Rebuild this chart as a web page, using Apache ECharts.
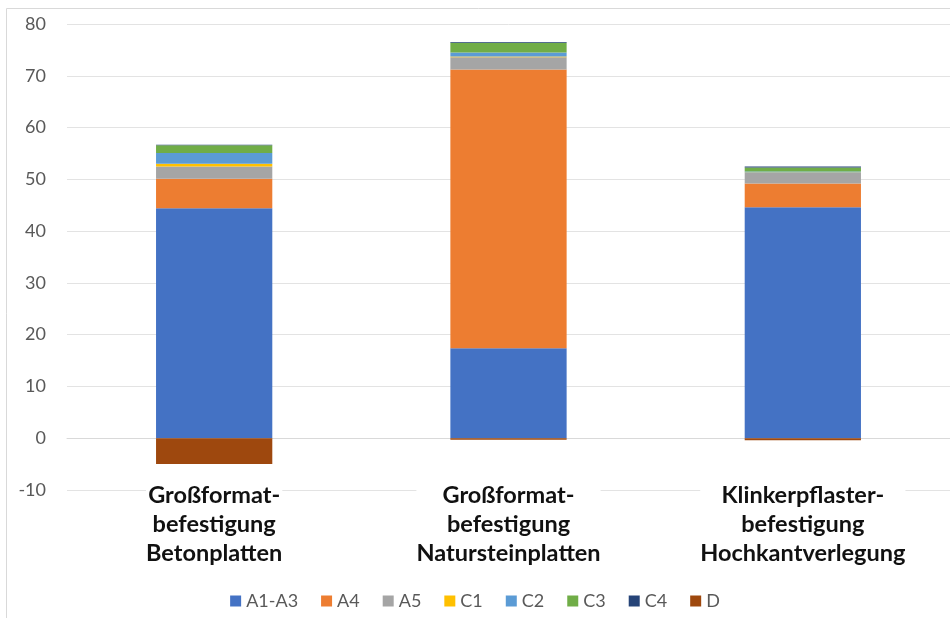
<!DOCTYPE html>
<html>
<head>
<meta charset="utf-8">
<script src="https://cdn.jsdelivr.net/npm/echarts@6/dist/echarts.min.js"></script>
<style>html,body{margin:0;padding:0;background:#fff}#c{width:950px;height:618px}</style>
</head>
<body>
<div id="c"></div>
<script>
const categories = ['Großformat-\nbefestigung\nBetonplatten', 'Großformat-\nbefestigung\nNatursteinplatten', 'Klinkerpflaster-\nbefestigung\nHochkantverlegung'];
const seriesNames = ['A1-A3', 'A4', 'A5', 'C1', 'C2', 'C3', 'C4', 'D'];
const A1A3 = [44.4, 17.4, 44.6];
const A4 = [5.7, 53.8, 4.6];
const A5 = [2.4, 2.4, 2.0];
const C1 = [0.5, 0.1, 0.1];
const C2 = [2.1, 0.8, 0.2];
const C3 = [1.5, 1.9, 0.8];
const C4 = [0.1, 0.1, 0.2];
const D = [-5.0, -0.3, -0.4];
const yTicks = [-10, 0, 10, 20, 30, 40, 50, 60, 70, 80];

const colors = ['#4472C4', '#ED7D31', '#A5A5A5', '#FFC000', '#5B9BD5', '#70AD47', '#264478', '#9E480E'];
const values = [A1A3, A4, A5, C1, C2, C3, C4, D];

const chart = echarts.init(document.getElementById('c'));
chart.setOption({
  animation: false,
  color: colors,
  graphic: [{
    type: 'rect', shape: {x: 6.5, y: 8.5, width: 1000, height: 700},
    style: {fill: 'none', stroke: '#d9d9d9', lineWidth: 1}, silent: true
  }],
  legend: {
    bottom: 3, left: 'center',
    itemWidth: 11, itemHeight: 11, itemGap: 23,
    icon: 'rect',
    textStyle: {color: '#595959', fontSize: 18, fontFamily: 'Lato'},
    data: seriesNames
  },
  grid: {left: 67, right: -4, top: 24, bottom: 128, containLabel: false},
  xAxis: {
    type: 'category',
    data: categories,
    position: 'bottom',
    axisLine: {onZero: true, lineStyle: {color: '#d9d9d9'}},
    axisTick: {show: false},
    axisLabel: {
      interval: 0, margin: -9,
      color: '#111', fontWeight: 'bold', fontSize: 23.5, fontFamily: 'Lato',
      lineHeight: 29, backgroundColor: '#fff'
    }
  },
  yAxis: {
    type: 'value', min: -10, max: 80, interval: 10,
    axisLine: {show: false}, axisTick: {show: false},
    splitLine: {lineStyle: {color: '#e3e3e3', width: 1}},
    axisLabel: {color: '#595959', fontSize: 18, fontFamily: 'Lato', margin: 21}
  },
  series: seriesNames.map((n, i) => ({
    name: n, type: 'bar', stack: 'total', barWidth: '39.5%',
    data: values[i],
    itemStyle: {color: colors[i]}
  }))
});
</script>
</body>
</html>
